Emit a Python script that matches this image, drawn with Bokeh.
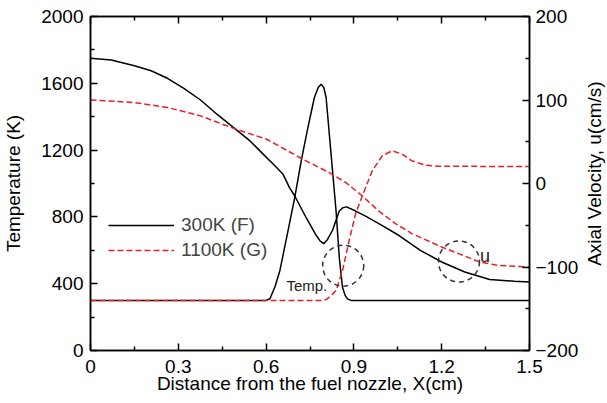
import math
from bokeh.plotting import figure
from bokeh.layouts import row
from bokeh.models import (Range1d, LinearAxis, FixedTicker, Legend, LegendItem,
                          CustomJSTickFormatter)
from bokeh.core.properties import value
from bokeh.embed import file_html
from bokeh.resources import INLINE

# ---- data ----
# 300K (F): temperature (K)
x_temp_f = [0.0, 0.3, 0.6, 0.613, 0.63, 0.647, 0.675, 0.698, 0.72, 0.743, 0.765, 0.778, 0.788,
            0.797, 0.805, 0.822, 0.839, 0.85, 0.861, 0.87, 0.878, 0.89, 1.2, 1.5]
temp_f = [300, 300, 300, 310, 380, 478, 718, 917, 1136, 1336, 1515, 1575, 1595,
          1575, 1515, 1176, 837, 558, 379, 330, 309, 300, 300, 300]

# 300K (F): axial velocity (cm/s)
x_vel_f = [0.0, 0.071, 0.15, 0.207, 0.263, 0.319, 0.376, 0.432, 0.489, 0.545, 0.602, 0.625,
           0.658, 0.68, 0.698, 0.737, 0.771, 0.785, 0.797, 0.81, 0.827, 0.85, 0.862, 0.875,
           0.906, 0.94, 1.0, 1.053, 1.127, 1.2, 1.279, 1.364, 1.448, 1.5]
vel_f = [150, 148, 141, 135, 126, 114, 100, 83, 67, 51, 31, 23,
         11, -5, -15, -41, -62, -69, -72, -67, -56, -33, -29, -28,
         -33, -39, -51, -62, -80, -94, -106, -115, -117, -118]

# 1100K (G): temperature (K)
x_temp_g = [0.0, 0.5, 0.79, 0.805, 0.82, 0.839, 0.861, 0.884, 0.906, 0.929, 0.963, 0.997,
            1.031, 1.064, 1.098, 1.143, 1.189, 1.5]
temp_g = [300, 300, 300, 305, 325, 359, 478, 660, 820, 927, 1077, 1166,
          1196, 1176, 1136, 1110, 1103, 1102]

# 1100K (G): axial velocity (cm/s)
x_vel_g = [0.0, 0.15, 0.263, 0.376, 0.489, 0.602, 0.726, 0.816, 0.873, 0.929, 0.985, 1.042,
           1.098, 1.2, 1.33, 1.392, 1.5]
vel_g = [100, 97, 91, 81, 66, 53, 29, 13, 1, -15, -33, -48,
         -60, -76, -94, -98, -100]

# annotation circles (x, temperature-axis position)
circle_x = [0.8635, 1.259]
circle_y = [508, 533]

x_ticks = [0, 0.3, 0.6, 0.9, 1.2, 1.5]
x_minor = [0.15, 0.45, 0.75, 1.05, 1.35]
t_ticks = [0, 400, 800, 1200, 1600, 2000]
t_minor = [200, 600, 1000, 1400, 1800]
u_ticks = [-200, -100, 0, 100, 200]
u_minor = [-150, -50, 50, 150]

FONT = "Liberation Sans"
FS = "19px"
RED = "#e4202a"

y_range = Range1d(0, 2000)
p = figure(width=581, height=403, x_range=Range1d(0, 1.5), y_range=y_range,
           output_backend="svg", toolbar_location=None,
           min_border_left=89, min_border_right=49, min_border_top=16, min_border_bottom=53)
p.extra_y_ranges = {"u": Range1d(-200, 200)}
p.xgrid.grid_line_color = None
p.ygrid.grid_line_color = None
p.outline_line_color = "black"
p.outline_line_width = 1.5
p.background_fill_color = "white"
p.border_fill_color = "white"

def style_axis(ax, ticks, minor):
    ax.ticker = FixedTicker(ticks=ticks, minor_ticks=minor)
    ax.axis_line_width = 1.5
    ax.axis_line_color = "black"
    ax.major_tick_line_width = 1.5
    ax.minor_tick_line_width = 1.5
    ax.major_tick_in = 7
    ax.major_tick_out = 0
    ax.minor_tick_in = 4
    ax.minor_tick_out = 0
    ax.major_label_text_font = FONT
    ax.major_label_text_font_size = FS
    ax.major_label_text_color = "black"
    ax.axis_label_text_font = FONT
    ax.axis_label_text_font_size = FS
    ax.axis_label_text_font_style = "normal"
    ax.axis_label_text_color = "black"

xa = p.xaxis[0]
style_axis(xa, x_ticks, x_minor)
xa.axis_label = "Distance from the fuel nozzle, X(cm)"
xa.major_label_overrides = {0: "0"}
xa.major_label_standoff = 9
xa.axis_label_standoff = -3

ya = p.yaxis[0]
style_axis(ya, t_ticks, t_minor)
ya.axis_label = "Temperature (K)"
ya.major_label_standoff = 7
ya.axis_label_standoff = 14

ra = LinearAxis(y_range_name="u")
style_axis(ra, u_ticks, u_minor)
ra.major_label_standoff = 6
p.add_layout(ra, "right")

ta = LinearAxis()
style_axis(ta, x_ticks, x_minor)
ta.formatter = CustomJSTickFormatter(code="return ''")
ta.major_label_standoff = 0
p.add_layout(ta, "above")

r1 = p.line(x_temp_f, temp_f, line_color="black", line_width=1.5)
p.line(x_vel_f, vel_f, y_range_name="u", line_color="black", line_width=1.5)
r2 = p.line(x_temp_g, temp_g, line_color=RED, line_width=1.5, line_dash="6 3")
p.line(x_vel_g, vel_g, y_range_name="u", line_color=RED, line_width=1.5, line_dash="6 3")

p.scatter(circle_x, circle_y, marker="circle", size=41, fill_color=None,
          line_color="#333333", line_width=1.5, line_dash="5 4")
p.text(x=[0.6695], y=[389], text=["Temp."], text_font=value(FONT), text_font_size="15px",
       text_color="#222222", text_baseline="alphabetic", text_align="left")
p.text(x=[1.331], y=[566], text=["u"], text_font=value(FONT), text_font_size="18px",
       text_color="#222222", text_baseline="alphabetic", text_align="left")

legend = Legend(items=[LegendItem(label="300K (F)", renderers=[r1]),
                       LegendItem(label="1100K (G)", renderers=[r2])],
                location=(18, 89), padding=0, margin=0, spacing=3,
                glyph_width=66, glyph_height=20, label_height=20, label_standoff=7,
                label_text_font=FONT, label_text_font_size=FS,
                border_line_alpha=0, background_fill_alpha=0)
p.add_layout(legend)

# narrow strip on the right holding the right-axis title (reads bottom-to-top)
p2 = figure(width=26, height=403, x_range=Range1d(0, 1), y_range=y_range,
            output_backend="svg", toolbar_location=None,
            x_axis_location=None, y_axis_location=None,
            min_border_left=0, min_border_right=0, min_border_top=16, min_border_bottom=53)
p2.xgrid.grid_line_color = None
p2.ygrid.grid_line_color = None
p2.outline_line_color = None
p2.background_fill_color = "white"
p2.border_fill_color = "white"
p2.text(x=[0.5], y=[1059], text=["Axial Velocity, u(cm/s)"], angle=math.pi / 2,
        text_font=value(FONT), text_font_size=FS, text_color="black",
        text_align="center", text_baseline="middle")

layout = row(p, p2, spacing=0)
open("out.html", "w").write(file_html(layout, INLINE))
